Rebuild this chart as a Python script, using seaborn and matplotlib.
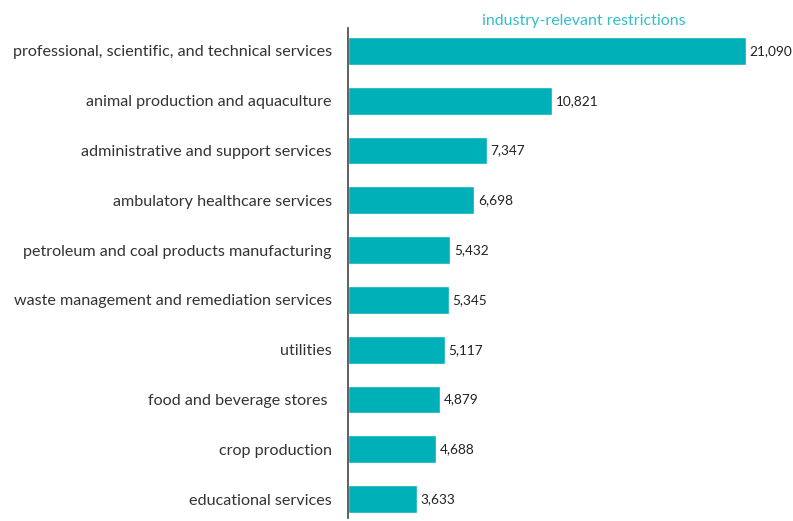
import numpy as np
import pandas as pd
import matplotlib
matplotlib.use("Agg")
import matplotlib.pyplot as plt
import seaborn as sns

industries = [
    "professional, scientific, and technical services",
    "animal production and aquaculture",
    "administrative and support services",
    "ambulatory healthcare services",
    "petroleum and coal products manufacturing",
    "waste management and remediation services",
    "utilities",
    "food and beverage stores ",
    "crop production",
    "educational services",
]
restrictions = [21090, 10821, 7347, 6698, 5432, 5345, 5117, 4879, 4688, 3633]

df = pd.DataFrame({"industry": industries, "restrictions": restrictions})

sns.set_style("white")
plt.rcParams["font.family"] = ["Lato", "DejaVu Sans"]

fig = plt.figure(figsize=(7.93, 5.21), dpi=100)
ax = fig.add_axes([0.4388, 0.00576, 0.5574, 0.9405])

sns.barplot(data=df, x="restrictions", y="industry", color="#00B0B9",
            saturation=1, width=0.56, ax=ax)

ax.set_xlim(0, 23420)
ax.set_ylim(9.38, -0.46)
ax.set_xlabel("")
ax.set_ylabel("")
ax.set_xticks([])
ax.tick_params(axis="y", length=0, pad=11.5, labelsize=11.6, labelcolor="#333333")

for s in ["top", "right", "bottom"]:
    ax.spines[s].set_visible(False)
ax.spines["left"].set_color("#444444")
ax.spines["left"].set_linewidth(1.2)

for i, v in enumerate(restrictions):
    ax.text(v + 200, i, f"{v:,}", va="center", ha="left", fontsize=9.8, color="#222222")

ax.text(0.534, 1.0, "industry-relevant restrictions", transform=ax.transAxes,
        ha="center", va="bottom", fontsize=11.5, color="#33BFC6")

fig.savefig("out.png", dpi=100)
plt.close(fig)
